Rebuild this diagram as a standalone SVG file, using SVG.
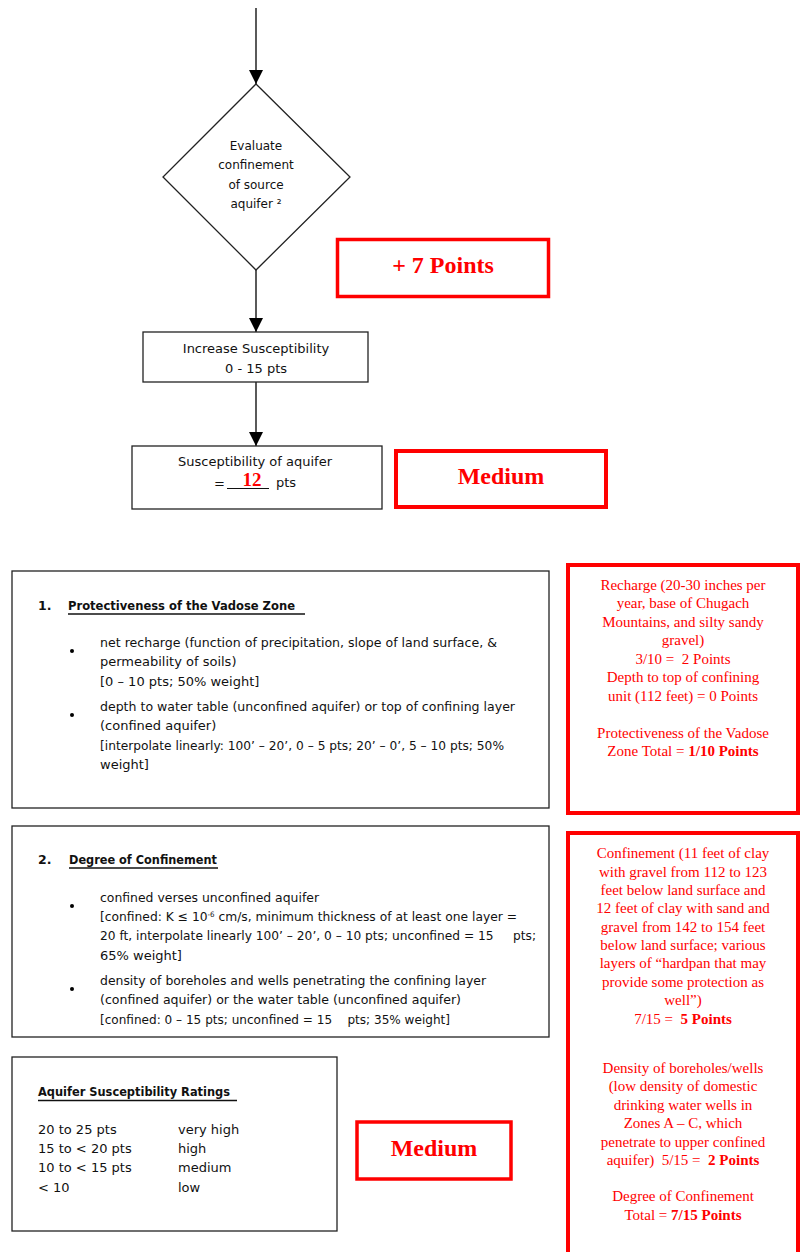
<svg xmlns="http://www.w3.org/2000/svg" width="803" height="1252" viewBox="0 0 803 1252">
  <style>
    .box { fill: #fff; stroke: #222; stroke-width: 1.3; }
    .red { fill: none; stroke: #ff0000; }
    .t { font-family: "DejaVu Sans", "Liberation Sans", sans-serif; font-size: 13px; fill: #111; white-space: pre; }
    .d { font-size: 12px; }
    .tb { font-family: "DejaVu Sans", "Liberation Sans", sans-serif; font-size: 12.5px; font-weight: bold; fill: #111; }
    .c { text-anchor: middle; }
    .rt { font-family: "Liberation Serif", "Times New Roman", serif; font-size: 15px; fill: #ff0000; text-anchor: middle; white-space: pre; }
    .rb { font-family: "Liberation Serif", "Times New Roman", serif; font-size: 24px; font-weight: bold; fill: #ff0000; text-anchor: middle; }
    .ul { stroke: #111; stroke-width: 1.5; }
    .conn { stroke: #000; stroke-width: 1.3; fill: none; marker-end: url(#arrow); }
  </style>
  <defs>
    <marker id="arrow" markerUnits="userSpaceOnUse" markerWidth="14" markerHeight="14" refX="14" refY="7" orient="auto">
      <path d="M0,0 L14,7 L0,14 Z" fill="#000"/>
    </marker>
  </defs>

  <rect width="803" height="1252" fill="#fff"/>

  <!-- flow connectors -->
  <g id="connectors">
    <line class="conn" x1="256" y1="8" x2="256" y2="84"/>
    <line class="conn" x1="256" y1="270" x2="256" y2="332"/>
    <line class="conn" x1="256" y1="382" x2="256" y2="446"/>
  </g>

  <!-- decision: confinement -->
  <g id="node-evaluate">
    <polygon class="box" points="256,84 350,177 256,270 163,177"/>
    <text class="t d c" x="256" y="150">Evaluate</text>
    <text class="t d c" x="256" y="169">confinement</text>
    <text class="t d c" x="256" y="189">of source</text>
    <text class="t d c" x="256" y="208">aquifer ²</text>
  </g>

  <g id="node-plus7">
    <rect class="red" x="337.5" y="239.5" width="211" height="57" stroke-width="3.5"/>
    <text class="rb" x="443" y="273">+ 7 Points</text>
  </g>

  <g id="node-increase">
    <rect class="box" x="143" y="332" width="225" height="50"/>
    <text class="t c" x="256" y="353">Increase Susceptibility</text>
    <text class="t c" x="256" y="373">0 - 15 pts</text>
  </g>

  <g id="node-result">
    <rect class="box" x="132" y="446" width="250" height="63"/>
    <text class="t c" x="255" y="466">Susceptibility of aquifer</text>
    <text class="t" x="214" y="488">=</text>
    <line x1="227" y1="488.5" x2="269" y2="488.5" stroke="#111" stroke-width="1"/>
    <text class="t" x="276" y="487">pts</text>
    <text x="252" y="486" font-family="Liberation Serif, serif" font-size="19" font-weight="bold" fill="#ff0000" text-anchor="middle">12</text>
  </g>

  <g id="node-medium-top">
    <rect class="red" x="396" y="451" width="210" height="56" stroke-width="4"/>
    <text class="rb" x="501" y="484">Medium</text>
  </g>

  <!-- criterion 1 -->
  <g id="node-vadose">
    <rect class="box" x="12" y="571" width="537" height="237"/>
    <text class="tb" x="38" y="610">1.</text>
    <text class="tb" x="68" y="610" textLength="227" lengthAdjust="spacingAndGlyphs">Protectiveness of the Vadose Zone</text>
    <line class="ul" x1="68" y1="614" x2="305" y2="614"/>
    <circle cx="72" cy="651" r="2"/>
    <circle cx="72" cy="715" r="2"/>
    <text class="t" x="100" y="647" textLength="397" lengthAdjust="spacingAndGlyphs">net recharge (function of precipitation, slope of land surface, &amp;</text>
    <text class="t" x="100" y="666">permeability of soils)</text>
    <text class="t" x="100" y="686">[0 – 10 pts; 50% weight]</text>
    <text class="t" x="100" y="711" textLength="415" lengthAdjust="spacingAndGlyphs">depth to water table (unconfined aquifer) or top of confining layer</text>
    <text class="t" x="100" y="730">(confined aquifer)</text>
    <text class="t" x="100" y="750" textLength="404" lengthAdjust="spacingAndGlyphs">[interpolate linearly: 100’ – 20’, 0 – 5 pts; 20’ – 0’, 5 – 10 pts; 50%</text>
    <text class="t" x="100" y="769">weight]</text>
  </g>

  <g id="node-vadose-notes">
    <rect class="red" x="568" y="565" width="230" height="248" stroke-width="4"/>
    <text class="rt" x="683" y="590">Recharge (20-30 inches per</text>
    <text class="rt" x="683" y="608">year, base of Chugach</text>
    <text class="rt" x="683" y="627">Mountains, and silty sandy</text>
    <text class="rt" x="683" y="645">gravel)</text>
    <text class="rt" x="683" y="664">3/10 =  2 Points</text>
    <text class="rt" x="683" y="682">Depth to top of confining</text>
    <text class="rt" x="683" y="701">unit (112 feet) = 0 Points</text>
    <text class="rt" x="683" y="738">Protectiveness of the Vadose</text>
    <text class="rt" x="683" y="756">Zone Total = <tspan font-weight="bold">1/10 Points</tspan></text>
  </g>

  <!-- criterion 2 -->
  <g id="node-confinement">
    <rect class="box" x="12" y="826" width="537" height="211"/>
    <text class="tb" x="38" y="864">2.</text>
    <text class="tb" x="69" y="864" textLength="148" lengthAdjust="spacingAndGlyphs">Degree of Confinement</text>
    <line class="ul" x1="69" y1="868" x2="218" y2="868"/>
    <circle cx="72" cy="906" r="2"/>
    <circle cx="72" cy="989" r="2"/>
    <text class="t" x="100" y="902" textLength="219" lengthAdjust="spacingAndGlyphs">confined verses unconfined aquifer</text>
    <text class="t" x="100" y="921" textLength="417" lengthAdjust="spacingAndGlyphs">[confined: K ≤ 10<tspan dy="-4" font-size="7.5">-6</tspan><tspan dy="4"> cm/s, minimum thickness of at least one layer =</tspan></text>
    <text class="t" x="100" y="940" textLength="436" lengthAdjust="spacingAndGlyphs">20 ft, interpolate linearly 100’ – 20’, 0 – 10 pts; unconfined = 15     pts;</text>
    <text class="t" x="100" y="960">65% weight]</text>
    <text class="t" x="100" y="985" textLength="386" lengthAdjust="spacingAndGlyphs">density of boreholes and wells penetrating the confining layer</text>
    <text class="t" x="100" y="1004" textLength="361" lengthAdjust="spacingAndGlyphs">(confined aquifer) or the water table (unconfined aquifer)</text>
    <text class="t" x="100" y="1024" textLength="350" lengthAdjust="spacingAndGlyphs">[confined: 0 – 15 pts; unconfined = 15    pts; 35% weight]</text>
  </g>

  <g id="node-confinement-notes">
    <rect class="red" x="568" y="833" width="230" height="440" stroke-width="4"/>
    <text class="rt" x="683" y="858">Confinement (11 feet of clay</text>
    <text class="rt" x="683" y="877">with gravel from 112 to 123</text>
    <text class="rt" x="683" y="895">feet below land surface and</text>
    <text class="rt" x="683" y="913">12 feet of clay with sand and</text>
    <text class="rt" x="683" y="932">gravel from 142 to 154 feet</text>
    <text class="rt" x="683" y="950">below land surface; various</text>
    <text class="rt" x="683" y="968">layers of “hardpan that may</text>
    <text class="rt" x="683" y="987">provide some protection as</text>
    <text class="rt" x="683" y="1005">well”)</text>
    <text class="rt" x="683" y="1024">7/15 =  <tspan font-weight="bold">5 Points</tspan></text>
    <text class="rt" x="683" y="1073">Density of boreholes/wells</text>
    <text class="rt" x="683" y="1091">(low density of domestic</text>
    <text class="rt" x="683" y="1110">drinking water wells in</text>
    <text class="rt" x="683" y="1128">Zones A – C, which</text>
    <text class="rt" x="683" y="1147">penetrate to upper confined</text>
    <text class="rt" x="683" y="1165">aquifer)  5/15 =  <tspan font-weight="bold">2 Points</tspan></text>
    <text class="rt" x="683" y="1201">Degree of Confinement</text>
    <text class="rt" x="683" y="1220">Total = <tspan font-weight="bold">7/15 Points</tspan></text>
  </g>

  <!-- rating scale -->
  <g id="node-ratings">
    <rect class="box" x="12" y="1057" width="325" height="174"/>
    <text class="tb" x="38" y="1096" textLength="192" lengthAdjust="spacingAndGlyphs">Aquifer Susceptibility Ratings</text>
    <line class="ul" x1="38" y1="1100.5" x2="237" y2="1100.5"/>
    <text class="t" x="38" y="1134">20 to 25 pts</text>
    <text class="t" x="38" y="1153">15 to &lt; 20 pts</text>
    <text class="t" x="38" y="1172">10 to &lt; 15 pts</text>
    <text class="t" x="38" y="1192">&lt; 10</text>
    <text class="t" x="178" y="1134">very high</text>
    <text class="t" x="178" y="1153">high</text>
    <text class="t" x="178" y="1172">medium</text>
    <text class="t" x="178" y="1192">low</text>
  </g>

  <g id="node-medium-bottom">
    <rect class="red" x="357" y="1122" width="154" height="57" stroke-width="3.5"/>
    <text class="rb" x="434" y="1156">Medium</text>
  </g>
</svg>
